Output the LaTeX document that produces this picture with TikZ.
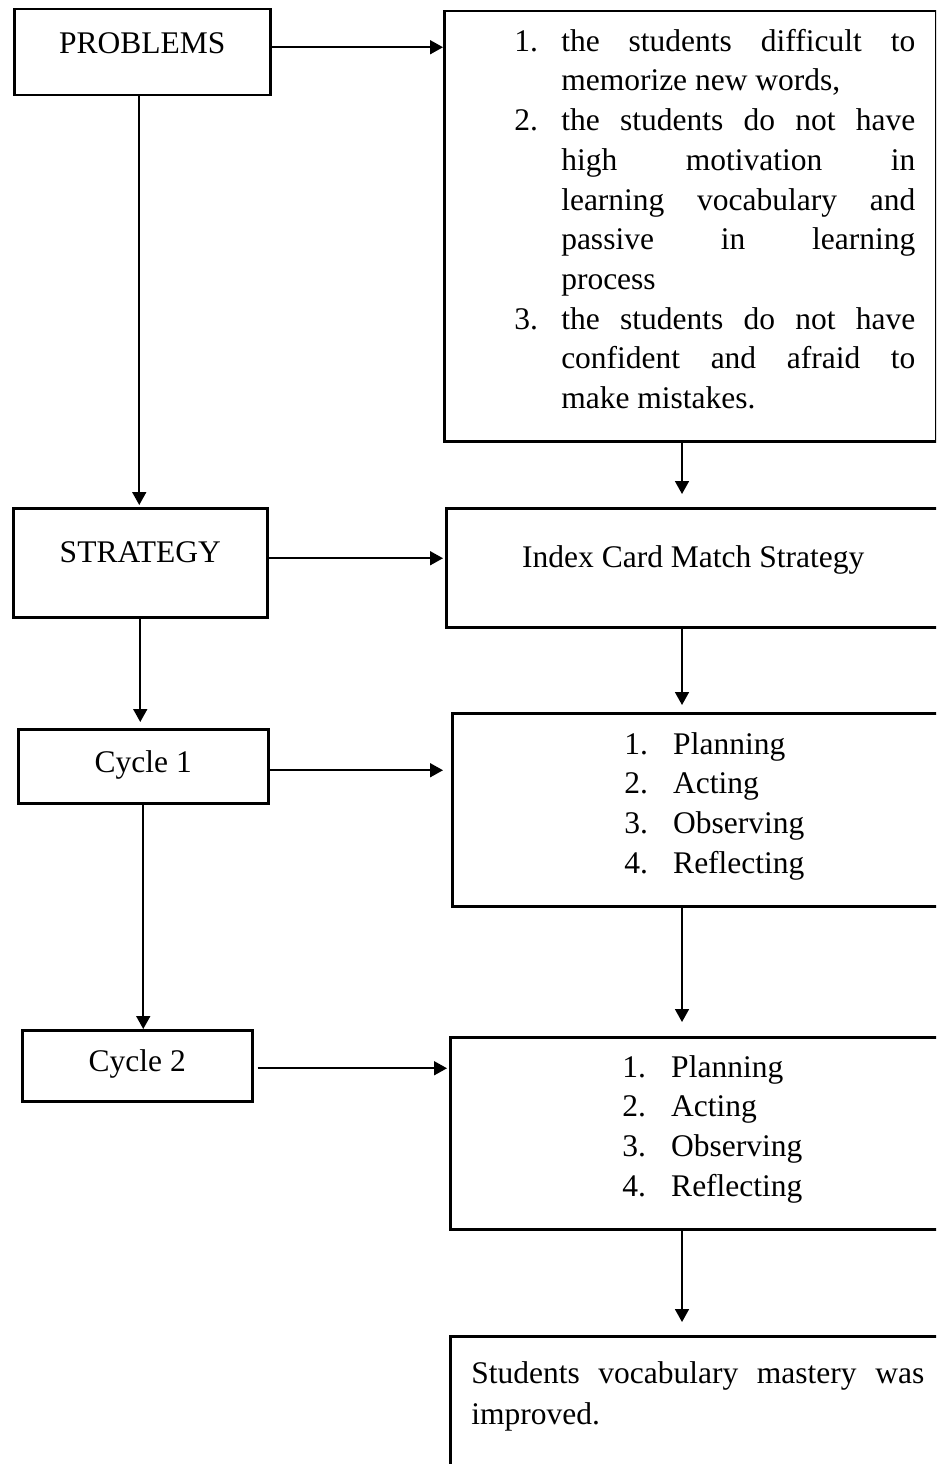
\documentclass[tikz,border=0pt]{standalone}
\usepackage{fontspec}
\setmainfont{Liberation Serif}
\usetikzlibrary{arrows.meta}

\newcommand{\probitem}[2]{\hangindent=18.8pt\hangafter=1\noindent\makebox[18.8pt][l]{#1}#2\par}
\newcommand{\cycleitem}[2]{\noindent\makebox[19.6pt][l]{#1}#2\par}

\begin{document}
\begin{tikzpicture}[x=0.4pt, y=-0.4pt, >={Triangle[length=5.2pt, width=5.6pt]},
    every node/.style={font=\fontsize{12.6}{15.88}\selectfont},
    box/.style={draw, line width=1pt, inner sep=0pt, anchor=north west},
    link/.style={->, line width=0.7pt}]
    \useasboundingbox (0,0) rectangle (936,1464);
    \clip (0,0) rectangle (936,1464);

    % left column
    \node[box, minimum width=102.4pt, text height=17.6pt, text depth=16.8pt] (PROBLEMS) at (13,8) {PROBLEMS};
    \node[box, minimum width=101.6pt, text height=21.6pt, text depth=22pt] (STRATEGY) at (12,507) {STRATEGY};
    \node[box, minimum width=100pt, text height=17.2pt, text depth=12.4pt] (CYCLEA) at (17,728) {Cycle 1};
    \node[box, minimum width=92pt, text height=16.4pt, text depth=12pt] (CYCLEB) at (21,1029) {Cycle 2};

    % right column
    \node[box, align=justify, text width=196.8pt, text height=16pt, text depth=156pt] (ISSUES) at (443,10) {%
        \leftskip=28pt \rightskip=8.4pt \spaceskip=0pt \xspaceskip=0pt \tolerance=10000 \hbadness=10000
        \probitem{1.}{the students difficult to\linebreak memorize new words,}
        \probitem{2.}{the students do not have\linebreak high motivation in\linebreak learning vocabulary and\linebreak passive in learning\linebreak process}
        \probitem{3.}{the students do not have\linebreak confident and afraid to\linebreak make mistakes.}};
    \node[box, minimum width=197.6pt, text height=23.6pt, text depth=24pt] (INDEX) at (445,507) {Index Card Match Strategy};
    \node[box, text width=195.6pt, text height=16.4pt, text depth=60.8pt] (STEPSA) at (451,712) {%
        \leftskip=68.8pt
        \cycleitem{1.}{Planning}
        \cycleitem{2.}{Acting}
        \cycleitem{3.}{Observing}
        \cycleitem{4.}{Reflecting}};
    \node[box, text width=196.4pt, text height=16pt, text depth=60.8pt] (STEPSB) at (449,1036) {%
        \leftskip=68.8pt
        \cycleitem{1.}{Planning}
        \cycleitem{2.}{Acting}
        \cycleitem{3.}{Observing}
        \cycleitem{4.}{Reflecting}};
    \node[box, align=justify, text width=196.4pt, text height=18.8pt, text depth=44pt] (RESULT) at (449,1335) {%
        \leftskip=8.4pt \rightskip=6.8pt \spaceskip=0pt \xspaceskip=0pt \tolerance=10000 \hbadness=10000 \baselineskip=16.4pt
        \noindent Students vocabulary mastery was\linebreak improved.\par};
    \coordinate (RMID) at (682,0);

    % connectors
    \draw[link] ([yshift=2pt]PROBLEMS.east) -- ([yshift=2pt]PROBLEMS.east -| ISSUES.west);
    \draw[link, shorten >=0.8pt] ([yshift=1.8pt]STRATEGY.east) -- ([yshift=1.8pt]STRATEGY.east -| INDEX.west);
    \draw[link, shorten >=3.2pt] ([yshift=-1.6pt]CYCLEA.east) -- ([yshift=-1.6pt]CYCLEA.east -| STEPSA.west);
    \draw[link, shorten <=1.6pt, shorten >=0.8pt] ([yshift=-1pt]CYCLEB.east) -- ([yshift=-1pt]CYCLEB.east -| STEPSB.west);

    \draw[link, shorten >=0.8pt] ([xshift=-1.2pt]PROBLEMS.south) -- ([xshift=-1.2pt]PROBLEMS.south |- STRATEGY.north);
    \draw[link, shorten >=2.4pt] (STRATEGY.south) -- (STRATEGY.south |- CYCLEA.north);
    \draw[link] (CYCLEA.south) -- (CYCLEA.south |- CYCLEB.north);
    \draw[link, shorten >=5.2pt] (ISSUES.south -| RMID) -- (INDEX.north -| RMID);
    \draw[link, shorten >=2.8pt] (INDEX.south -| RMID) -- (STEPSA.north -| RMID);
    \draw[link, shorten >=5.6pt] (STEPSA.south -| RMID) -- (STEPSB.north -| RMID);
    \draw[link, shorten >=5.2pt] (STEPSB.south -| RMID) -- (RESULT.north -| RMID);
\end{tikzpicture}
\end{document}
